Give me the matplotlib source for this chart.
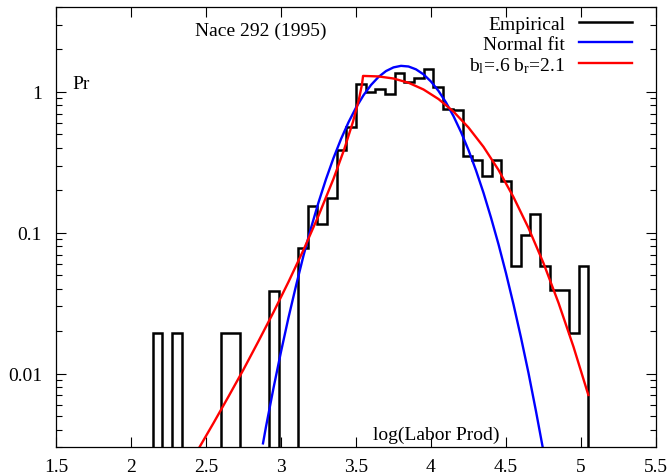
import numpy as np
import matplotlib
matplotlib.use('Agg')
import matplotlib.pyplot as plt
from matplotlib.ticker import FixedLocator, LogLocator, NullFormatter

plt.rcParams['font.family'] = ['Liberation Serif', 'DejaVu Serif']
plt.rcParams['mathtext.fontset'] = 'custom'
plt.rcParams['mathtext.rm'] = 'Liberation Serif'
plt.rcParams['mathtext.it'] = 'Liberation Serif:italic'

# empirical density (45 equal bins between lo and hi)
bin_lo, bin_hi = 2.145, 5.049
emp_pr = [0.0194, 0, 0.0194, 0, 0, 0, 0, 0.0194, 0.0194, 0,
          0, 0, 0.0388, 0, 0, 0.0776, 0.155, 0.116, 0.175, 0.388,
          0.563, 1.145, 0.99, 1.05, 0.97, 1.37, 1.165, 1.26, 1.45, 1.085,
          0.76, 0.74, 0.35, 0.33, 0.252, 0.33, 0.233, 0.058, 0.097, 0.136,
          0.058, 0.039, 0.039, 0.0194, 0.058]

# normal fit
norm_x = [2.88, 2.9, 2.95, 3.0, 3.05, 3.1, 3.15, 3.2, 3.25, 3.3, 3.35, 3.4, 3.45,
          3.5, 3.55, 3.6, 3.65, 3.7, 3.75, 3.8, 3.85, 3.9, 3.95, 4.0, 4.05, 4.1,
          4.15, 4.2, 4.25, 4.3, 4.35, 4.4, 4.45, 4.5, 4.55, 4.6, 4.65, 4.7, 4.75]
norm_y = [0.0032, 0.0042, 0.0079, 0.0143, 0.025, 0.042, 0.0688, 0.108, 0.164,
          0.240, 0.339, 0.462, 0.608, 0.772, 0.946, 1.118, 1.275, 1.404, 1.491,
          1.529, 1.513, 1.444, 1.331, 1.183, 1.015, 0.841, 0.672, 0.518, 0.386,
          0.277, 0.192, 0.128, 0.0828, 0.0516, 0.031, 0.018, 0.0101, 0.0054, 0.0028]

# asymmetric fit b_l=.6 b_r=2.1
aep_x = [2.456, 2.55, 2.65, 2.75, 2.85, 2.95, 3.05, 3.15, 3.25, 3.35, 3.42, 3.48,
         3.52, 3.54, 3.547, 3.65, 3.75, 3.85, 3.95, 4.05, 4.15, 4.25, 4.35, 4.45,
         4.55, 4.65, 4.75, 4.85, 4.95, 5.049]
aep_y = [0.0030, 0.00446, 0.00688, 0.0107, 0.017, 0.0273, 0.0448, 0.0755, 0.132,
         0.2415, 0.387, 0.6135, 0.888, 1.131, 1.297, 1.286, 1.243, 1.160, 1.039,
         0.889, 0.724, 0.558, 0.407, 0.279, 0.179, 0.108, 0.0608, 0.0318, 0.0155, 0.00705]

xticks = [1.5, 2, 2.5, 3, 3.5, 4, 4.5, 5, 5.5]
xtick_labels = ['1.5', '2', '2.5', '3', '3.5', '4', '4.5', '5', '5.5']
yticks = [0.01, 0.1, 1]
ytick_labels = ['0.01', '0.1', '1']

fig = plt.figure(figsize=(6.72, 4.77), dpi=100)
ax = fig.add_axes([56/672, 28.7/477, 600/672, 440.3/477])

edges = np.linspace(bin_lo, bin_hi, len(emp_pr) + 1)
floor = 1e-6  # empty bins drop below the axis
heights = np.where(np.array(emp_pr) > 0, emp_pr, floor)
ax.stairs(heights, edges, baseline=floor, color='k', lw=1.8, label='Empirical')
ax.plot(norm_x, norm_y, c='#0000ff', lw=1.7, label='Normal fit')
ax.plot(aep_x, aep_y, c='#ff0000', lw=1.7, label=r'b$_{\rm l}$=.6 b$_{\rm r}$=2.1')

ax.set_yscale('log')
ax.set_xlim(1.5, 5.5)
ax.set_ylim(0.003, 4.0)

ax.set_xticks(xticks)
ax.set_xticklabels(xtick_labels, fontsize=14)
ax.yaxis.set_major_locator(FixedLocator(yticks))
ax.set_yticklabels(ytick_labels, fontsize=14)
ax.yaxis.set_minor_locator(LogLocator(base=10, subs=np.arange(2, 10)))
ax.yaxis.set_minor_formatter(NullFormatter())

ax.tick_params(which='both', direction='in', top=True, right=True, width=0.8)
ax.tick_params(which='major', length=7)
ax.tick_params(which='minor', length=4)
ax.tick_params(axis='x', pad=8)
ax.tick_params(axis='y', pad=10)
for spi in ['bottom', 'left', 'top', 'right']:
    ax.spines[spi].set_linewidth(0.9)

ax.text(0.341, 0.948, 'Nace 292 (1995)', transform=ax.transAxes, fontsize=14,
        ha='center', va='center')
ax.text(0.028, 0.827, 'Pr', transform=ax.transAxes, fontsize=14, ha='left', va='center')
ax.text(0.634, 0.030, 'log(Labor Prod)', transform=ax.transAxes, fontsize=14,
        ha='center', va='center')

ax.legend(loc='upper right', bbox_to_anchor=(0.96, 0.981), frameon=False, fontsize=14,
          markerfirst=False, borderpad=0, borderaxespad=0, handlelength=2.75,
          handletextpad=0.7, labelspacing=0.12)

plt.savefig('out.png', dpi=100)
